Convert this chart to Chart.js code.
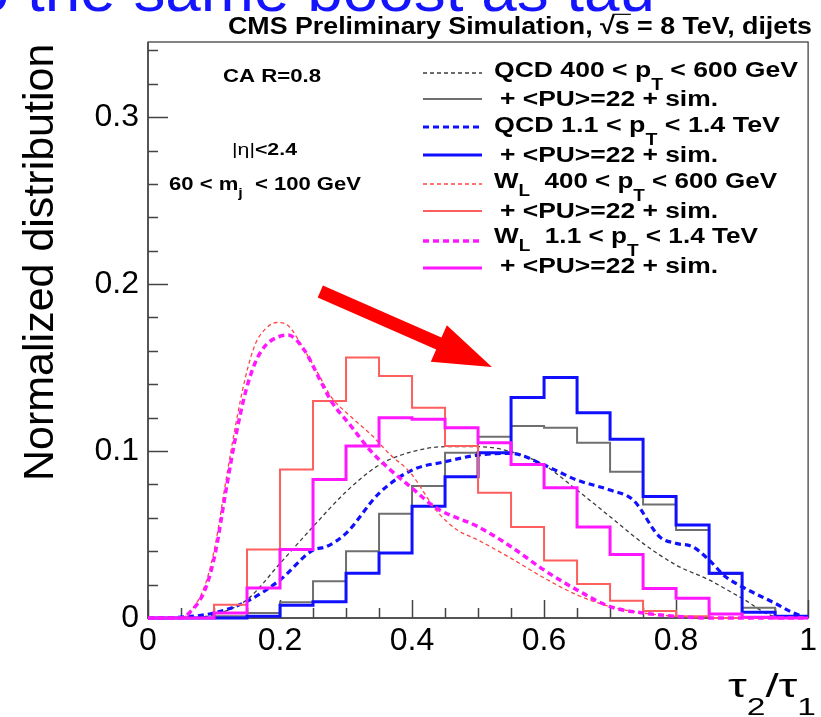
<!DOCTYPE html>
<html>
<head>
<meta charset="utf-8">
<title>tau2/tau1 for W and QCD jets</title>
<script src="https://cdn.jsdelivr.net/npm/chart.js@4.4.1/dist/chart.umd.min.js"></script>
<style>
  html, body { margin: 0; padding: 0; background: #fff; }
  canvas { display: block; }
</style>
</head>
<body>
<canvas id="chartTau" width="821" height="717"></canvas>
<script>
// Axis ticks
const xTicks = [0, 0.2, 0.4, 0.6, 0.8, 1];
const yTicks = [0, 0.1, 0.2, 0.3];
const yMax = 0.345;

// Histogram bin edges (20 bins of 0.05)
const binEdges = [0, 0.05, 0.1, 0.15, 0.2, 0.25, 0.3, 0.35, 0.4, 0.45, 0.5,
                  0.55, 0.6, 0.65, 0.7, 0.75, 0.8, 0.85, 0.9, 0.95, 1];

// "+ <PU>=22 + sim." histograms, one value per bin
const qcdLowPU  = [0, 0, 0.001, 0.003, 0.0094, 0.022, 0.040, 0.0625, 0.079, 0.099,
                   0.1086, 0.115, 0.114, 0.105, 0.0876, 0.068, 0.0527, 0.0263, 0.0062, 0.001];
const qcdHighPU = [0, 0, 0, 0.001, 0.0076, 0.0098, 0.0268, 0.039, 0.067, 0.0846,
                   0.099, 0.132, 0.144, 0.123, 0.107, 0.0727, 0.0557, 0.0268, 0.0034, 0.001];
const wLowPU    = [0, 0, 0.008, 0.041, 0.089, 0.130, 0.156, 0.145, 0.126, 0.103,
                   0.075, 0.0545, 0.0345, 0.0204, 0.0104, 0.0042, 0.001, 0, 0, 0];
const wHighPU   = [0, 0, 0.003, 0.018, 0.041, 0.083, 0.103, 0.120, 0.119, 0.114,
                   0.105, 0.092, 0.078, 0.0545, 0.038, 0.0176, 0.0118, 0.0024, 0.0005, 0];

// Nominal samples (smooth dashed curves): positions and heights
const qcdLowX = [0, 0.05, 0.1, 0.15, 0.2, 0.25, 0.3, 0.35, 0.4, 0.45, 0.5,
                 0.55, 0.6, 0.65, 0.7, 0.75, 0.8, 0.85, 0.9, 0.95, 1];
const qcdLowY = [0, 0, 0.002, 0.011, 0.0327, 0.0547, 0.0756, 0.0916, 0.0996, 0.1026, 0.1026,
                 0.0996, 0.0916, 0.0766, 0.0607, 0.0447, 0.0317, 0.0228, 0.0118, 0.001, 0];

const qcdHighX = [0, 0.05, 0.1, 0.15, 0.2, 0.25, 0.27, 0.3, 0.35, 0.4, 0.45, 0.5, 0.55,
                  0.6, 0.65, 0.7, 0.735, 0.775, 0.8, 0.825, 0.85, 0.875, 0.9, 0.95, 0.978, 1];
const qcdHighY = [0, 0.0005, 0.003, 0.01, 0.0228, 0.0407, 0.0427, 0.0507, 0.0747, 0.0886, 0.0936,
                  0.0976, 0.0986, 0.0916, 0.0826, 0.0766, 0.0707, 0.0487, 0.0447, 0.0427,
                  0.0347, 0.0247, 0.0187, 0.0088, 0.003, 0];

const wLowX = [0, 0.05, 0.0625, 0.0875, 0.1025, 0.1175, 0.1325, 0.1475, 0.1625, 0.1775, 0.195,
               0.2125, 0.2375, 0.2575, 0.2775, 0.3075, 0.3375, 0.3675, 0.3975, 0.4375, 0.4675,
               0.5, 0.55, 0.6, 0.65, 0.7, 0.75, 0.8, 0.85, 1];
const wLowY = [0, 0, 0.003, 0.021, 0.045, 0.081, 0.115, 0.144, 0.164, 0.173, 0.177,
               0.175, 0.160, 0.1465, 0.1325, 0.1205, 0.110, 0.0976, 0.087, 0.064, 0.053,
               0.0467, 0.0357, 0.024, 0.0138, 0.0068, 0.003, 0.001, 0, 0];

const wHighX = [0, 0.05, 0.0625, 0.0875, 0.1025, 0.1175, 0.1325, 0.1475, 0.1625, 0.1775, 0.195,
                0.2125, 0.2375, 0.2575, 0.2775, 0.3075, 0.3375, 0.3675, 0.3975, 0.4375,
                0.5, 0.55, 0.6, 0.65, 0.7, 0.75, 0.8, 0.85, 1];
const wHighY = [0, 0, 0.003, 0.018, 0.040, 0.075, 0.108, 0.135, 0.153, 0.163, 0.168,
                0.1695, 0.160, 0.145, 0.130, 0.115, 0.100, 0.0886, 0.0786, 0.0657,
                0.0547, 0.0427, 0.0287, 0.0168, 0.0068, 0.003, 0.001, 0, 0];

// Legend text, one row per series
const legendRows = [
  [{ t: 'QCD 400 < p' }, { t: 'T', sub: 13 }, { t: ' < 600 GeV' }],
  [{ t: '+ <PU>=22 + sim.' }],
  [{ t: 'QCD 1.1 < p' }, { t: 'T', sub: 13 }, { t: ' < 1.4 TeV' }],
  [{ t: '+ <PU>=22 + sim.' }],
  [{ t: 'W' }, { t: 'L', sub: 8 }, { t: '  400 < p' }, { t: 'T', sub: 13 }, { t: ' < 600 GeV' }],
  [{ t: '+ <PU>=22 + sim.' }],
  [{ t: 'W' }, { t: 'L', sub: 8 }, { t: '  1.1 < p' }, { t: 'T', sub: 13 }, { t: ' < 1.4 TeV' }],
  [{ t: '+ <PU>=22 + sim.' }]
];

const FONT = '"Liberation Sans", Arial, Helvetica, sans-serif';

function histPoints(vals) {
  // one point per bin edge; with stepped 'before' each value holds until the next edge
  const pts = vals.map((v, i) => ({ x: binEdges[i], y: v }));
  pts.push({ x: binEdges[vals.length], y: vals[vals.length - 1] });
  return pts;
}
function curvePoints(xs, ys) {
  return xs.map((x, i) => ({ x, y: ys[i] }));
}

const series = [
  { data: curvePoints(qcdLowX, qcdLowY),   color: '#3c3c3c', width: 1.3, dash: [4, 3], curve: true },
  { data: histPoints(qcdLowPU),            color: '#6f6f6f', width: 2 },
  { data: curvePoints(qcdHighX, qcdHighY), color: '#1010ff', width: 3.2, dash: [6, 4], curve: true },
  { data: histPoints(qcdHighPU),           color: '#1010ff', width: 3 },
  { data: curvePoints(wLowX, wLowY),       color: '#ff4646', width: 1.3, dash: [4, 3], curve: true },
  { data: histPoints(wLowPU),              color: '#ff5e5e', width: 2 },
  { data: curvePoints(wHighX, wHighY),     color: '#ff18ff', width: 3.5, dash: [6, 4], curve: true },
  { data: histPoints(wHighPU),             color: '#ff18ff', width: 3 }
];

// text with sub-scripts, squeezed to a target width
function richText(ctx, segs, x, y, size, width, weight) {
  const w0 = weight || 'bold';
  const fontOf = s => (s.weight || w0) + ' ' + (s.sub ? Math.round(size * 0.72) : size) + 'px ' + FONT;
  let total = 0;
  const widths = segs.map(s => { ctx.font = fontOf(s); const w = ctx.measureText(s.t).width; total += w; return w; });
  const k = width ? width / total : 1;
  ctx.save();
  ctx.translate(x, y);
  ctx.scale(k, 1);
  ctx.textAlign = 'left';
  ctx.textBaseline = 'alphabetic';
  let cx = 0;
  segs.forEach((s, i) => {
    ctx.font = fontOf(s);
    ctx.fillText(s.t, cx, s.sub || 0);
    if (s.over) {
      ctx.lineWidth = 1.2;
      ctx.beginPath();
      ctx.moveTo(cx - 2, -size * 0.82);
      ctx.lineTo(cx + widths[i] + 1, -size * 0.82);
      ctx.stroke();
    }
    cx += widths[i];
  });
  ctx.restore();
}

const decorations = {
  id: 'decorations',
  beforeDatasetsDraw(chart) {
    const { ctx, chartArea: a, scales: { x, y } } = chart;
    ctx.save();
    // frame
    ctx.strokeStyle = '#333';
    ctx.lineWidth = 1.2;
    ctx.strokeRect(a.left, a.top, a.right - a.left, a.bottom - a.top);
    ctx.strokeStyle = '#555';
    ctx.lineWidth = 2;
    ctx.beginPath();
    ctx.moveTo(a.left, a.top); ctx.lineTo(a.left, a.bottom); ctx.lineTo(a.right, a.bottom);
    ctx.stroke();
    // inner ticks
    ctx.lineWidth = 1.5;
    ctx.strokeStyle = '#444';
    ctx.beginPath();
    for (let v = 0; v <= yMax + 1e-9; v += 0.02) {
      const py = Math.round(y.getPixelForValue(v)) + 0.5;
      const major = yTicks.some(t => Math.abs(t - v) < 1e-6);
      ctx.moveTo(a.left, py); ctx.lineTo(a.left + (major ? 20 : 10), py);
    }
    for (let v = 0; v <= 1 + 1e-9; v += 0.05) {
      const px = Math.round(x.getPixelForValue(v)) + 0.5;
      const major = xTicks.some(t => Math.abs(t - v) < 1e-6);
      ctx.moveTo(px, a.bottom); ctx.lineTo(px, a.bottom - (major ? 18 : 10));
    }
    ctx.stroke();
    ctx.restore();
  },
  afterDraw(chart) {
    const { ctx, scales: { x, y } } = chart;
    ctx.save();
    ctx.fillStyle = '#000';
    ctx.strokeStyle = '#000';

    // banner line cut at the top edge
    ctx.fillStyle = '#1414ff';
    ctx.font = '62px ' + FONT;
    const head = 'the same boost as tau';
    const hw = ctx.measureText(head).width;
    const hk = 628 / hw;
    ctx.save();
    ctx.translate(27, 11);
    ctx.scale(hk, 1);
    ctx.fillText(head, 0, 0);
    ctx.fillText('o', -ctx.measureText('o ').width, 0);
    ctx.restore();

    // title
    ctx.fillStyle = '#000';
    richText(ctx, [
      { t: 'CMS Preliminary Simulation, ' }, { t: '\u221A' }, { t: 's', over: true },
      { t: ' = 8 TeV, dijets' }
    ], 228, 34, 24, 584);

    // text in the frame
    richText(ctx, [{ t: 'CA R=0.8' }], 223, 82, 18, 98);
    richText(ctx, [{ t: '|\u03B7|', weight: 'normal' }, { t: '<2.4' }], 232, 155, 17, 65);
    richText(ctx, [{ t: '60 < m' }, { t: 'j', sub: 7 }, { t: '  < 100 GeV' }], 169, 190, 18, 192);

    // legend
    const rowBase = [77, 106, 132, 162, 188, 218, 243, 273];
    const rowLine = [73, 99, 127, 155, 184, 211, 241, 268];
    const rowX = [494, 500, 494, 500, 494, 500, 494, 500];
    const rowW = [304, 218, 286, 218, 283, 218, 264, 218];
    series.forEach((s, i) => {
      ctx.save();
      ctx.strokeStyle = s.color;
      ctx.lineWidth = s.width;
      ctx.setLineDash(s.dash || []);
      ctx.beginPath();
      ctx.moveTo(423, rowLine[i]); ctx.lineTo(482, rowLine[i]);
      ctx.stroke();
      ctx.restore();
      richText(ctx, legendRows[i], rowX[i], rowBase[i], 22, rowW[i]);
    });

    // axis titles
    ctx.save();
    ctx.translate(53, 481);
    ctx.rotate(-Math.PI / 2);
    ctx.font = '43px ' + FONT;
    ctx.textAlign = 'left';
    ctx.fillText('Normalized distribution', 0, 0);
    ctx.restore();
    richText(ctx, [{ t: '\u03C4' }, { t: '2', sub: 18 }, { t: '/' }, { t: '\u03C4' }, { t: '1', sub: 18 }],
      728, 697, 34, 88, 'normal');

    // arrow pointing towards higher tau2/tau1
    const p0 = { x: x.getPixelForValue(0.261), y: y.getPixelForValue(0.1956) };
    const p1 = { x: x.getPixelForValue(0.521), y: y.getPixelForValue(0.1504) };
    const len = Math.hypot(p1.x - p0.x, p1.y - p0.y);
    const ux = (p1.x - p0.x) / len, uy = (p1.y - p0.y) / len;
    const nx = -uy, ny = ux;
    const hl = 58, hh = 20, sh = 6.5;
    const bx = p1.x - ux * hl, by = p1.y - uy * hl;
    ctx.fillStyle = '#ff0000';
    ctx.beginPath();
    ctx.moveTo(p0.x + nx * sh, p0.y + ny * sh);
    ctx.lineTo(bx + nx * sh, by + ny * sh);
    ctx.lineTo(bx + nx * hh, by + ny * hh);
    ctx.lineTo(p1.x, p1.y);
    ctx.lineTo(bx - nx * hh, by - ny * hh);
    ctx.lineTo(bx - nx * sh, by - ny * sh);
    ctx.lineTo(p0.x - nx * sh, p0.y - ny * sh);
    ctx.closePath();
    ctx.fill();
    ctx.restore();
  }
};

new Chart(document.getElementById('chartTau'), {
  type: 'line',
  data: {
    datasets: series.map((s, i) => ({
      data: s.data,
      borderColor: s.color,
      borderWidth: s.width,
      borderDash: s.dash || [],
      stepped: s.curve ? false : 'before',
      cubicInterpolationMode: s.curve ? 'monotone' : 'default',
      pointRadius: 0,
      fill: false,
      clip: 4,
      order: series.length - 1 - i
    }))
  },
  options: {
    responsive: false,
    animation: false,
    devicePixelRatio: 1,
    layout: { padding: { top: 42, right: 3, left: 0, bottom: 0 } },
    plugins: { legend: { display: false }, tooltip: { enabled: false } },
    scales: {
      x: {
        type: 'linear', min: 0, max: 1,
        grid: { display: false, drawTicks: false },
        border: { display: false },
        afterBuildTicks: s => { s.ticks = xTicks.map(v => ({ value: v })); },
        afterFit: s => { s.height = 99; },
        ticks: {
          padding: 4, color: '#000', maxRotation: 0, autoSkip: false,
          font: { family: FONT, size: 32 },
          callback: v => (v === 0 || v === 1) ? String(v) : v.toFixed(1)
        }
      },
      y: {
        type: 'linear', min: 0, max: yMax,
        grid: { display: false, drawTicks: false },
        border: { display: false },
        afterBuildTicks: s => { s.ticks = yTicks.map(v => ({ value: v })); },
        afterFit: s => { s.width = 148; },
        ticks: {
          padding: 9, color: '#000',
          font: { family: FONT, size: 32 },
          callback: v => v === 0 ? '0' : v.toFixed(1)
        }
      }
    }
  },
  plugins: [decorations]
});
</script>
</body>
</html>
